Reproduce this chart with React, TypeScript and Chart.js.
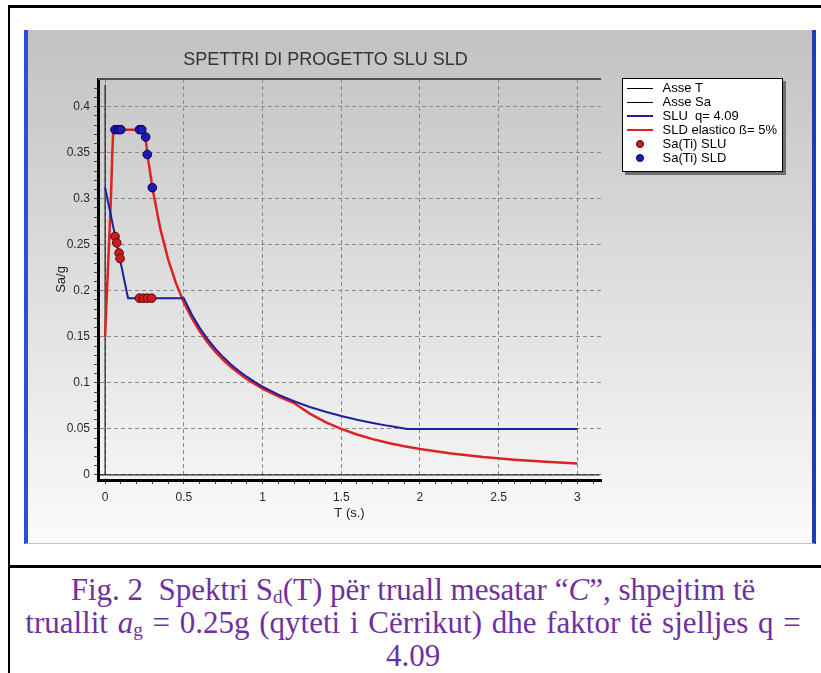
import React, { useEffect, useRef } from 'react';
import { Chart, registerables } from 'chart.js';

Chart.register(...registerables);

// ---------- data ----------
const X_MAJOR_TICKS = [0, 0.5, 1, 1.5, 2, 2.5, 3];
const X_TICK_LABELS = ['0', '0.5', '1', '1.5', '2', '2.5', '3'];
const X_MINOR_STEP = 0.1;
const X_MINOR_COUNT = 31;

const Y_MAJOR_TICKS = [0, 0.05, 0.1, 0.15, 0.2, 0.25, 0.3, 0.35, 0.4];
const Y_TICK_LABELS = ['0', '0.05', '0.1', '0.15', '0.2', '0.25', '0.3', '0.35', '0.4'];
const Y_MINOR_STEP = 0.01;
const Y_MINOR_COUNT = 42;

const ASSE_T_T = [-0.04, 3.14];
const ASSE_T_SA = [0, 0];
const ASSE_SA_T = [0, 0];
const ASSE_SA_SA = [0, 0.424];

const SLU_T = [0, 0.146, 0.5, 0.55, 0.6, 0.65, 0.7, 0.75, 0.8, 0.85, 0.9, 0.95, 1.0, 1.1, 1.2, 1.3, 1.4, 1.5, 1.6, 1.7, 1.8, 1.9, 1.92, 3.0];
const SLU_SA = [0.312, 0.192, 0.192, 0.1745, 0.16, 0.1477, 0.1371, 0.128, 0.12, 0.1129, 0.1067, 0.1011, 0.096, 0.0873, 0.08, 0.0738, 0.0686, 0.064, 0.06, 0.0565, 0.0533, 0.0505, 0.05, 0.05];

const SLD_T = [0, 0.012, 0.025, 0.037, 0.046, 0.052, 0.25, 0.275, 0.3, 0.35, 0.4, 0.45, 0.5, 0.55, 0.6, 0.65, 0.7, 0.75, 0.8, 0.85, 0.9, 0.95, 1.0, 1.1, 1.2, 1.3, 1.4, 1.5, 1.6, 1.7, 1.8, 1.9, 2.0, 2.2, 2.4, 2.6, 2.8, 3.0];
const SLD_SA = [0.15, 0.2, 0.25, 0.3, 0.35, 0.375, 0.375, 0.341, 0.3125, 0.268, 0.2344, 0.2083, 0.1875, 0.1705, 0.1563, 0.1442, 0.1339, 0.125, 0.1172, 0.1103, 0.1042, 0.0987, 0.0938, 0.0852, 0.0781, 0.0666, 0.0574, 0.05, 0.0439, 0.0389, 0.0347, 0.0312, 0.0281, 0.0232, 0.0195, 0.0166, 0.0143, 0.0125];

const PTS_SLU_T = [0.063, 0.074, 0.089, 0.095, 0.218, 0.243, 0.268, 0.296];
const PTS_SLU_SA = [0.259, 0.252, 0.241, 0.235, 0.192, 0.192, 0.192, 0.192];

const PTS_SLD_T = [0.063, 0.084, 0.1, 0.218, 0.233, 0.258, 0.268, 0.3];
const PTS_SLD_SA = [0.375, 0.375, 0.375, 0.375, 0.375, 0.367, 0.348, 0.312];

const SERIES_LABELS = ['Asse T', 'Asse Sa', 'SLU  q= 4.09', 'SLD elastico ß= 5%', 'Sa(Ti) SLU', 'Sa(Ti) SLD'];

// ---------- styles ----------
const FONT = '"Liberation Sans", Arial, sans-serif';
const BLUE = '#1f1fa0';
const RED = '#dc2323';
const LEGEND_WIDTH = 211;

const zip = (xs: number[], ys: number[]) => xs.map((x, i) => ({ x, y: ys[i] }));
const near = (a: number, b: number) => Math.abs(a - b) < 1e-6;

function lineIcon(color: string, w: number) {
  const c = document.createElement('canvas');
  c.width = 26;
  c.height = 4;
  const g = c.getContext('2d')!;
  g.fillStyle = color;
  g.fillRect(0, w >= 2 ? 1 : 2, 26, w);
  return c;
}
function dotIcon(fill: string, stroke: string) {
  const c = document.createElement('canvas');
  c.width = 10;
  c.height = 10;
  const g = c.getContext('2d')!;
  g.beginPath();
  g.arc(5, 5, 3.5, 0, Math.PI * 2);
  g.fillStyle = fill;
  g.fill();
  g.lineWidth = 1;
  g.strokeStyle = stroke;
  g.stroke();
  return c;
}

const layoutPlugin = {
  id: 'layoutTweaks',
  beforeLayout(chart: any) {
    const lg = chart.legend;
    if (lg && !lg.__fixed) {
      const orig = lg.fit.bind(lg);
      lg.fit = function () {
        orig();
        this.width = LEGEND_WIDTH;
      };
      lg.__fixed = true;
    }
  },
  beforeDraw(chart: any) {
    const { ctx, chartArea } = chart;
    const tb = chart.titleBlock;
    if (tb) {
      const cx = (chartArea.left + chartArea.right) / 2 - 24;
      tb.left = cx - tb.width / 2;
      tb.right = tb.left + tb.width;
    }
    const lg = chart.legend;
    if (lg) {
      lg.left = chartArea.right + 22;
      lg.right = lg.left + lg.width;
      lg.top = chartArea.top + 1.5;
      lg.bottom = lg.top + lg.height;
      const bx = lg.left - 1;
      const by = chartArea.top - 1;
      const bw = 161;
      const bh = 94;
      ctx.save();
      ctx.fillStyle = '#6e6e6e';
      ctx.fillRect(bx + 3, by + 3, bw, bh);
      ctx.fillStyle = '#ffffff';
      ctx.fillRect(bx, by, bw, bh);
      ctx.strokeStyle = '#000';
      ctx.lineWidth = 1;
      ctx.strokeRect(bx + 0.5, by + 0.5, bw - 1, bh - 1);
      ctx.restore();
    }
  },
  beforeDatasetsDraw(chart: any) {
    const { ctx, chartArea } = chart;
    ctx.save();
    ctx.strokeStyle = '#505050';
    ctx.lineWidth = 2;
    ctx.beginPath();
    ctx.moveTo(chartArea.left, chartArea.top);
    ctx.lineTo(chartArea.right, chartArea.top);
    ctx.stroke();
    ctx.restore();
  },
};

export default function App() {
  const ref = useRef<HTMLCanvasElement>(null);

  useEffect(() => {
    const canvas = ref.current;
    if (!canvas) return;
    Chart.defaults.font.family = FONT;

    const icons = [
      lineIcon('#000', 1),
      lineIcon('#000', 1),
      lineIcon(BLUE, 2),
      lineIcon(RED, 2),
      dotIcon('#c81e1e', '#5a0000'),
      dotIcon('#1c1cb4', '#000050'),
    ];

    const lineDs = (label: string, data: any[], color: string, width: number, order: number) => ({
      label,
      data,
      showLine: true,
      borderColor: color,
      backgroundColor: color,
      borderWidth: width,
      pointRadius: 0,
      pointHoverRadius: 0,
      tension: 0,
      fill: false,
      order,
    });
    const dotDs = (label: string, data: any[], fill: string, stroke: string, order: number) => ({
      label,
      data,
      showLine: false,
      backgroundColor: fill,
      borderColor: stroke,
      pointRadius: 4.3,
      pointBorderWidth: 1,
      pointHoverRadius: 4.3,
      order,
    });

    const chart = new Chart(canvas, {
      type: 'scatter',
      data: {
        datasets: [
          lineDs(SERIES_LABELS[0], zip(ASSE_T_T, ASSE_T_SA), '#000', 1, 6),
          lineDs(SERIES_LABELS[1], zip(ASSE_SA_T, ASSE_SA_SA), '#000', 1, 5),
          lineDs(SERIES_LABELS[2], zip(SLU_T, SLU_SA), BLUE, 2, 3),
          lineDs(SERIES_LABELS[3], zip(SLD_T, SLD_SA), RED, 2.5, 4),
          dotDs(SERIES_LABELS[4], zip(PTS_SLU_T, PTS_SLU_SA), '#c81e1e', '#5a0000', 1),
          dotDs(SERIES_LABELS[5], zip(PTS_SLD_T, PTS_SLD_SA), '#1c1cb4', '#000050', 0),
        ] as any,
      },
      options: {
        animation: false,
        responsive: false,
        events: [],
        layout: { padding: 0 },
        scales: {
          x: {
            type: 'linear',
            min: -0.045,
            max: 3.15,
            afterBuildTicks: (scale: any) => {
              const out: any[] = [];
              for (let i = 0; i <= X_MINOR_COUNT; i++) out.push({ value: +(i * X_MINOR_STEP).toFixed(3) });
              scale.ticks = out;
            },
            afterFit: (scale: any) => {
              scale.height = 63;
            },
            ticks: {
              autoSkip: false,
              maxRotation: 0,
              minRotation: 0,
              padding: 6,
              color: '#2a2a2a',
              font: { size: 12, family: FONT },
              callback: (value: any) => {
                const i = X_MAJOR_TICKS.findIndex((m) => near(m, Number(value)));
                return i >= 0 ? X_TICK_LABELS[i] : '';
              },
            },
            grid: {
              color: (c: any) => (c.tick && X_MAJOR_TICKS.some((m) => near(m, c.tick.value)) ? '#8a8a8a' : 'rgba(0,0,0,0)'),
              lineWidth: 1,
              tickColor: '#444',
              tickLength: 4,
              drawTicks: true,
            },
            border: { display: true, color: '#000', width: 3, dash: [4, 3] },
            title: {
              display: true,
              text: 'T (s.)',
              color: '#222',
              font: { size: 13, family: FONT },
              padding: { top: 0, bottom: 22 },
            },
          },
          y: {
            type: 'linear',
            min: -0.0055,
            max: 0.43,
            afterBuildTicks: (scale: any) => {
              const out: any[] = [];
              for (let i = 0; i <= Y_MINOR_COUNT; i++) out.push({ value: +(i * Y_MINOR_STEP).toFixed(4) });
              scale.ticks = out;
            },
            afterFit: (scale: any) => {
              scale.width = 70;
            },
            ticks: {
              autoSkip: false,
              padding: 4,
              color: '#2a2a2a',
              font: { size: 12, family: FONT },
              callback: (value: any) => {
                const i = Y_MAJOR_TICKS.findIndex((m) => near(m, Number(value)));
                return i >= 0 ? Y_TICK_LABELS[i] : '';
              },
            },
            grid: {
              color: (c: any) => (c.tick && Y_MAJOR_TICKS.some((m) => near(m, c.tick.value)) ? '#8a8a8a' : 'rgba(0,0,0,0)'),
              lineWidth: 1,
              tickColor: '#444',
              tickLength: 4,
              drawTicks: true,
            },
            border: { display: true, color: '#000', width: 3, dash: [4, 3] },
            title: {
              display: true,
              text: 'Sa/g',
              color: '#222',
              font: { size: 13, family: FONT },
              padding: { top: 26, bottom: 0 },
            },
          },
        },
        plugins: {
          title: {
            display: true,
            text: 'SPETTRI DI PROGETTO SLU SLD',
            color: '#333',
            font: { size: 18, family: FONT, weight: 'normal' },
            padding: { top: 19.5, bottom: 7.9 },
          },
          legend: {
            display: true,
            position: 'right',
            align: 'start',
            fullSize: false,
            labels: {
              usePointStyle: true,
              pointStyleWidth: 32,
              padding: 1,
              color: '#000',
              font: { size: 13, family: FONT },
              generateLabels: (ch: any) =>
                ch.data.datasets.map((ds: any, i: number) => ({
                  text: ds.label,
                  pointStyle: icons[i],
                  fillStyle: 'rgba(0,0,0,0)',
                  strokeStyle: 'rgba(0,0,0,0)',
                  lineWidth: 0,
                  hidden: false,
                  datasetIndex: i,
                  fontColor: '#000',
                })),
            },
          },
          tooltip: { enabled: false },
        },
      } as any,
      plugins: [layoutPlugin as any],
    });

    return () => chart.destroy();
  }, []);

  const sub: React.CSSProperties = { fontSize: '0.62em', verticalAlign: '-0.18em', lineHeight: 0 };

  return (
    <div style={{ position: 'absolute', left: 0, top: 0, width: 821, height: 673, background: '#fff', overflow: 'hidden' }}>
      <div style={{ position: 'absolute', left: 8, top: 5, width: 813, height: 3, background: '#000' }} />
      <div style={{ position: 'absolute', left: 8, top: 5, width: 2, height: 668, background: '#000' }} />
      <div style={{ position: 'absolute', left: 8, top: 565, width: 813, height: 3, background: '#000' }} />
      <div
        style={{
          position: 'absolute',
          left: 24,
          top: 30,
          width: 792,
          height: 514,
          boxSizing: 'border-box',
          background: 'linear-gradient(#c2c2c2, #fbfbfb)',
          borderLeft: '4px solid #2353d6',
          borderRight: '4px solid #1b3fb5',
          borderBottom: '1px solid #cbc3b2',
        }}
      />
      <canvas
        ref={ref}
        width={784}
        height={513}
        style={{ position: 'absolute', left: 28, top: 30, width: 784, height: 513 }}
      />
      <div
        style={{
          position: 'absolute',
          left: 8,
          top: 573,
          width: 810,
          textAlign: 'center',
          fontFamily: '"Liberation Serif", "Times New Roman", serif',
          fontSize: 31,
          lineHeight: '33px',
          color: '#7030a0',
          whiteSpace: 'nowrap',
        }}
      >
        Fig. 2&nbsp; Spektri S<span style={sub}>d</span>(T) për truall mesatar “<i>C</i>”, shpejtim të
        <br />
        <span style={{ wordSpacing: '2px' }}>
          truallit <i>a</i>
          <span style={sub}>g</span> = 0.25g (qyteti i Cërrikut) dhe faktor të sjelljes q =
        </span>
        <br />
        4.09
      </div>
    </div>
  );
}
